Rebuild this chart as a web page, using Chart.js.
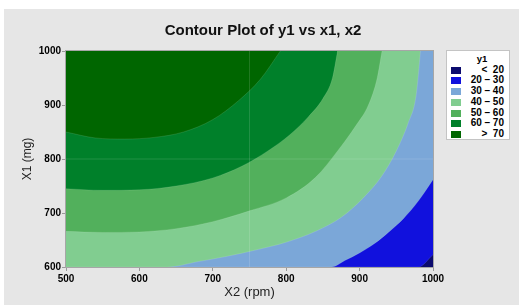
<!DOCTYPE html>
<html>
<head>
<meta charset="utf-8">
<title>Contour Plot of y1 vs x1, x2</title>
<script src="https://cdn.jsdelivr.net/npm/chart.js@4/dist/chart.umd.min.js"></script>
<style>
  html, body { margin: 0; padding: 0; background: #fff; }
  #wrap { position: relative; width: 519px; height: 305px; }
  #legend {
    position: absolute; left: 446px; top: 50px; width: 64px; height: 90px;
    box-sizing: border-box; background: #fff; border: 1px solid #c4c4c4;
    font-family: "Liberation Sans", Arial, sans-serif; font-weight: bold; color: #000;
  }
  #legend .ttl { position: absolute; left: 0; right: 0; top: 3px; line-height: 10px; font-size: 9.5px; text-align: center; padding-left: 8px; }
  #legend .rows { position: absolute; left: 0; right: 0; top: 13.8px; }
  #legend .row { position: relative; height: 10.7px; }
  #legend .sw { position: absolute; left: 4px; top: 2px; width: 10px; height: 7px; }
  #legend .txt { position: absolute; right: 5px; top: 0; line-height: 10.7px; font-size: 10px; white-space: pre; }
</style>
</head>
<body>
<div id="wrap">
  <canvas id="chart" width="519" height="305"></canvas>
  <div id="legend"></div>
</div>
<script>
// ── Data
const x2Ticks = [500, 600, 700, 800, 900, 1000];   // X2 (rpm)
const x1Ticks = [600, 700, 800, 900, 1000];        // X1 (mg)
const levels = [20, 30, 40, 50, 60, 70];           // y1 contour levels
const bandColors = ['#0c0b6e', '#1111dd', '#7ba7d8', '#81cd90', '#52b05c', '#00802a', '#006600'];

// contour boundary curves (x2 -> x1) per level
const c20x = [980, 1000];
const c20y = [600, 622.7];
const c30x = [862, 880, 900, 920, 940, 960, 980, 1000];
const c30y = [600, 612, 626, 643, 665, 690, 722, 761.5];
const c40x = [637.6, 680, 720, 760, 800, 840, 875, 905, 930, 950, 966, 977, 983];
const c40y = [600, 610, 620, 632, 646, 666, 692, 728, 768, 815, 866, 918, 1000];
const c50x = [500, 550, 600, 650, 700, 750, 800, 840, 870, 895, 912, 924, 930.5];
const c50y = [666, 664, 665, 671, 684, 704, 728, 766, 815, 862, 900, 950, 1000];
const c60x = [500, 550, 600, 650, 700, 740, 775, 805, 830, 850, 863, 870];
const c60y = [745, 742, 743, 750, 765, 787, 815, 845, 878, 912, 950, 1000];
const c70x = [500, 540, 580, 620, 660, 700, 735, 765, 792];
const c70y = [850, 839, 837, 840, 850, 873, 908, 948, 1000];

// reference lines
const refX2 = 750;
const refX1 = 800;

// ── Helpers
const FONT = '"Liberation Sans", Arial, sans-serif';
const xMin = x2Ticks[0], xMax = x2Ticks[x2Ticks.length - 1];
const yMin = x1Ticks[0], yMax = x1Ticks[x1Ticks.length - 1];

function boundary(xs, ys, color) {
  const pts = xs.map((x, i) => ({ x, y: ys[i] }));
  if (xs[0] > xMin) pts.unshift({ x: xMin, y: yMin });   // curve starts on bottom edge
  return {
    data: pts,
    fill: 'end',
    backgroundColor: color,
    borderColor: 'rgba(255,255,255,0.14)',
    borderWidth: 0.8,
    cubicInterpolationMode: 'monotone',
  };
}

function refLine(pts) {
  return {
    data: pts,
    fill: false,
    borderColor: 'rgba(255,255,255,0.13)',
    borderWidth: 1,
    tension: 0,
    cubicInterpolationMode: 'default',
  };
}

// first dataset is drawn last (on top)
const datasets = [
  refLine([{ x: refX2, y: yMin }, { x: refX2, y: yMax }]),
  refLine([{ x: xMin, y: refX1 }, { x: xMax, y: refX1 }]),
  boundary(c70x, c70y, bandColors[6]),
  boundary(c60x, c60y, bandColors[5]),
  boundary(c50x, c50y, bandColors[4]),
  boundary(c40x, c40y, bandColors[3]),
  boundary(c30x, c30y, bandColors[2]),
  boundary(c20x, c20y, bandColors[1]),
  { data: [{ x: xMin, y: yMin }, { x: xMax, y: yMin }], fill: 'end', backgroundColor: bandColors[0], borderWidth: 0 },
];

// ── Plugins
const panelBg = {
  id: 'panelBg',
  beforeDraw(chart) {
    const { ctx, width, height } = chart;
    ctx.save();
    ctx.fillStyle = '#fff';
    ctx.fillRect(0, 0, width, height);
    ctx.fillStyle = '#e6e6e6';
    ctx.fillRect(4, 9, width - 4, height - 9);
    ctx.restore();
  }
};

const frame = {
  id: 'frame',
  afterDatasetsDraw(chart) {
    const { ctx, chartArea: a } = chart;
    ctx.save();
    ctx.strokeStyle = '#a6a6a6';
    ctx.lineWidth = 1;
    ctx.strokeRect(Math.round(a.left) - 0.5, Math.round(a.top) - 0.5, Math.round(a.right - a.left) + 1, Math.round(a.bottom - a.top) + 1);
    ctx.restore();
  }
};

// ── Chart
const tickFont = { family: FONT, size: 10, weight: 'bold' };
const plain = v => String(v);

new Chart(document.getElementById('chart'), {
  type: 'line',
  data: { datasets },
  options: {
    responsive: false,
    animation: false,
    devicePixelRatio: 1,
    layout: { padding: { left: 7, right: 0, top: 9, bottom: 0 } },
    elements: { point: { radius: 0, hoverRadius: 0 } },
    plugins: {
      legend: { display: false },
      tooltip: { enabled: false },
      title: {
        display: true,
        text: 'Contour Plot of y1 vs x1, x2',
        color: '#111',
        font: { family: FONT, size: 15, weight: 'bold' },
        padding: { top: 12.7, bottom: 11.3 },
      },
    },
    scales: {
      x: {
        type: 'linear', min: xMin, max: xMax,
        ticks: { stepSize: 100, color: '#000', font: tickFont, padding: 2, maxRotation: 0, callback: plain },
        grid: { drawOnChartArea: false, tickLength: 4, color: '#999' },
        border: { color: '#a6a6a6' },
        title: { display: true, text: 'X2 (rpm)', color: '#222', font: { family: FONT, size: 13 }, padding: { top: 0, bottom: 4.5 } },
        afterFit: s => { s.height = 38; },
      },
      y: {
        type: 'linear', min: yMin, max: yMax,
        ticks: { stepSize: 100, color: '#000', font: tickFont, padding: 1, callback: plain },
        grid: { drawOnChartArea: false, tickLength: 4, color: '#999' },
        border: { color: '#a6a6a6' },
        title: { display: true, text: 'X1 (mg)', color: '#222', font: { family: FONT, size: 12 }, padding: { top: 13, bottom: 0 } },
        afterFit: s => { s.width = 59; },
      },
      side: {
        position: 'right', display: true,
        grid: { display: false }, border: { display: false }, ticks: { display: false },
        afterFit: s => { s.width = 86; },
      },
    },
  },
  plugins: [panelBg, frame],
});

// ── Legend (y1 bands, low to high)
const legendEl = document.getElementById('legend');
const bandText = bandColors.map((c, i) => {
  if (i === 0) return '<  ' + levels[0];
  if (i === levels.length) return '>  ' + levels[levels.length - 1];
  return levels[i - 1] + ' \u2013 ' + levels[i];
});
legendEl.innerHTML = '<div class="ttl">y1</div><div class="rows">' +
  bandColors.map((c, i) => `<div class="row"><span class="sw" style="background:${c}"></span><span class="txt">${bandText[i].replace('<', '&lt;').replace('>', '&gt;')}</span></div>`).join('') +
  '</div>';
</script>
</body>
</html>
